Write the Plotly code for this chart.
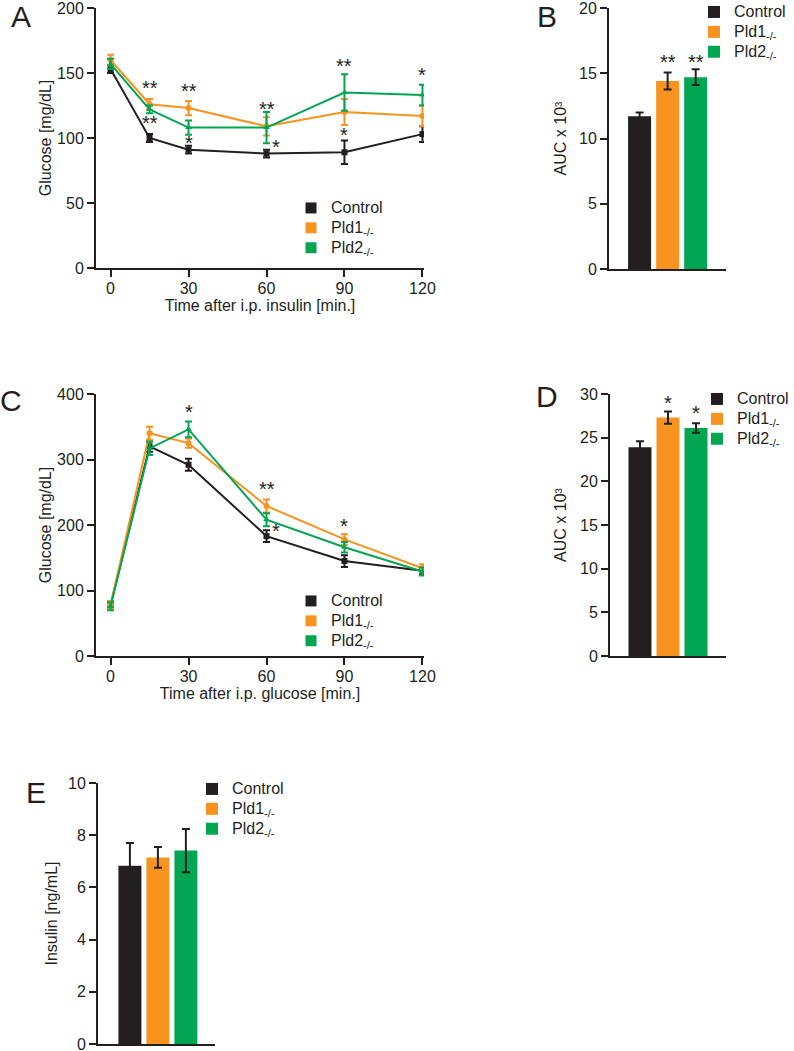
import plotly.graph_objects as go

W, H = 794, 1051
FONT = "Liberation Sans, Arial, Helvetica, sans-serif"
INK = "#231F20"

# ---------------- data ----------------
time_min = [0, 15, 30, 60, 90, 120]
time_ticks = [0, 30, 60, 90, 120]
groups = ["Control", "Pld1-/-", "Pld2-/-"]
group_labels = ["Control", "Pld1<sub>-/-</sub>", "Pld2<sub>-/-</sub>"]
group_colors = ["#231F20", "#F7931E", "#00A651"]
group_symbols = ["square", "circle", "triangle-up"]

# A: insulin tolerance test (glucose, mg/dL)
itt_control = [153, 100, 91, 88, 89, 103]
itt_control_err = [3, 3, 3, 3, 9, 6]
itt_pld1 = [160, 126, 123, 109, 120, 117]
itt_pld1_err = [4, 4, 5.5, 7, 10, 8]
itt_pld2 = [157, 122, 108, 108, 135, 133]
itt_pld2_err = [4, 3, 5.5, 12, 14, 8]
sig_a_x = [15, 15, 30, 30, 60, 63.5, 90, 90, 120]
sig_a_y = [140, 113, 138, 98, 124, 95, 157, 104, 150]
sig_a_text = ["**", "**", "**", "*", "**", "*", "**", "*", "*"]

# B: ITT area under curve (x 10^3)
itt_auc = [11.7, 14.4, 14.7]
itt_auc_err = [0.3, 0.65, 0.6]
sig_b_x = ["Pld1-/-", "Pld2-/-"]
sig_b_y = [16.0, 16.0]
sig_b_text = ["**", "**"]

# C: glucose tolerance test (glucose, mg/dL)
gtt_control = [78, 320, 292, 183, 145, 130]
gtt_control_err = [5, 8, 9, 9, 9, 6]
gtt_pld1 = [78, 340, 325, 229, 178, 134]
gtt_pld1_err = [6, 10, 7, 10, 8, 6]
gtt_pld2 = [76, 317, 346, 208, 166, 129]
gtt_pld2_err = [6, 10, 12, 10, 8, 6]
sig_c_x = [30, 60, 63.5, 90]
sig_c_y = [375, 258, 194, 202]
sig_c_text = ["*", "**", "*", "*"]

# D: GTT area under curve (x 10^3)
gtt_auc = [23.9, 27.3, 26.1]
gtt_auc_err = [0.7, 0.7, 0.55]
sig_d_x = ["Pld1-/-", "Pld2-/-"]
sig_d_y = [29.2, 28.0]
sig_d_text = ["*", "*"]

# E: plasma insulin (ng/mL)
insulin = [6.83, 7.15, 7.41]
insulin_err = [0.87, 0.4, 0.83]


# ---------------- helpers ----------------
def xdom(left, right):
    return [left / W, right / W]


def ydom(top, bottom):
    return [1 - bottom / H, 1 - top / H]


def legend_text(label):
    return f'<span style="font-size:16px">{label}</span>'


fig = go.Figure()


def add_lines(xa, ya, legend, series, errs):
    for i, (vals, err) in enumerate(zip(series, errs)):
        fig.add_trace(go.Scatter(
            x=time_min, y=vals, xaxis=xa, yaxis=ya,
            mode="lines+markers", showlegend=False,
            line=dict(color=group_colors[i], width=2),
            marker=dict(color=group_colors[i], size=6, symbol=group_symbols[i]),
            error_y=dict(type="data", array=err, color=group_colors[i],
                         thickness=2, width=3.5),
        ))
    for i in range(3):
        fig.add_trace(go.Scatter(
            x=[None], y=[None], xaxis=xa, yaxis=ya, mode="markers",
            name=legend_text(group_labels[i]), legend=legend,
            marker=dict(color=group_colors[i], size=11, symbol="square"),
        ))


def add_bars(xa, ya, legend, vals, errs):
    for i in range(3):
        fig.add_trace(go.Bar(
            x=[groups[i]], y=[vals[i]], xaxis=xa, yaxis=ya,
            name=legend_text(group_labels[i]), legend=legend, width=0.82,
            marker=dict(color=group_colors[i], line=dict(width=0)),
            error_y=dict(type="data", array=[errs[i]], color=INK,
                         thickness=2, width=4),
        ))


def add_sig(xa, ya, xs, ys, texts):
    for x, y, t in zip(xs, ys, texts):
        fig.add_annotation(x=x, y=y, xref=xa, yref=ya, text=t,
                           showarrow=False, yshift=-2,
                           font=dict(size=20, color=INK, family=FONT))


add_lines("x", "y", "legend",
          [itt_control, itt_pld1, itt_pld2],
          [itt_control_err, itt_pld1_err, itt_pld2_err])
add_bars("x2", "y2", "legend2", itt_auc, itt_auc_err)
add_lines("x3", "y3", "legend3",
          [gtt_control, gtt_pld1, gtt_pld2],
          [gtt_control_err, gtt_pld1_err, gtt_pld2_err])
add_bars("x4", "y4", "legend4", gtt_auc, gtt_auc_err)
add_bars("x5", "y5", "legend5", insulin, insulin_err)

add_sig("x", "y", sig_a_x, sig_a_y, sig_a_text)
add_sig("x2", "y2", sig_b_x, sig_b_y, sig_b_text)
add_sig("x3", "y3", sig_c_x, sig_c_y, sig_c_text)
add_sig("x4", "y4", sig_d_x, sig_d_y, sig_d_text)

axis_common = dict(showline=True, linecolor=INK, linewidth=2, showgrid=False,
                   zeroline=False, ticks="outside", ticklen=7, tickwidth=2,
                   tickcolor=INK, ticklabeloverflow="allow",
                   tickfont=dict(size=16, color=INK, family=FONT))
title_font = dict(size=16, color=INK, family=FONT)


def time_axis(domain, title):
    return dict(axis_common, domain=domain, range=[-5.6, 120.6],
                tickvals=time_ticks, ticklabelstandoff=-2,
                title=dict(text=title, font=title_font, standoff=2))


def cat_axis(domain, rng):
    return dict(axis_common, domain=domain, range=rng, type="category",
                categoryorder="array", categoryarray=groups,
                showticklabels=False, ticks="")


def val_axis(domain, rng, dtick, title, standoff):
    return dict(axis_common, domain=domain, range=rng, dtick=dtick,
                title=dict(text=title, font=title_font, standoff=standoff))


def legend_at(x_px, y_px):
    return dict(x=x_px / W, y=1 - y_px / H, xanchor="left", yanchor="top",
                bgcolor="rgba(0,0,0,0)", borderwidth=0, itemwidth=30,
                font=dict(size=13, color=INK, family=FONT), tracegroupgap=0)


fig.update_layout(
    width=W, height=H,
    margin=dict(l=0, r=0, t=0, b=0, pad=0, autoexpand=False),
    paper_bgcolor="white", plot_bgcolor="white",
    font=dict(family=FONT, color=INK), barmode="overlay",
    xaxis=dict(time_axis(xdom(96, 424), "Time after i.p. insulin [min.]"), anchor="y"),
    yaxis=dict(val_axis(ydom(8, 268), [0, 200], 50, "Glucose [mg/dL]", 1), anchor="x"),
    xaxis2=dict(cat_axis(xdom(609, 726), [-1.09, 3.08]), anchor="y2"),
    yaxis2=dict(val_axis(ydom(8, 269), [0, 20], 5, "AUC x 10³", 8), anchor="x2"),
    xaxis3=dict(time_axis(xdom(96, 424), "Time after i.p. glucose [min.]"), anchor="y3"),
    yaxis3=dict(val_axis(ydom(394, 656), [0, 400], 100, "Glucose [mg/dL]", 1), anchor="x3"),
    xaxis4=dict(cat_axis(xdom(610, 726), [-1.07, 3.07]), anchor="y4"),
    yaxis4=dict(val_axis(ydom(394, 656), [0, 30], 5, "AUC x 10³", 9), anchor="x4"),
    xaxis5=dict(cat_axis(xdom(98, 215), [-1.14, 3.04]), anchor="y5"),
    yaxis5=dict(val_axis(ydom(783, 1044), [0, 10], 2, "Insulin [ng/mL]", 6), anchor="x5"),
    legend=legend_at(291, 193),
    legend2=legend_at(694, -3),
    legend3=legend_at(291, 586),
    legend4=legend_at(697, 384),
    legend5=legend_at(192, 774),
)

panel_letters = ["A", "B", "C", "D", "E"]
letter_x = [21, 547, 11, 547, 36]
letter_y = [17, 17, 400, 397, 792]
for t, x, y in zip(panel_letters, letter_x, letter_y):
    fig.add_annotation(x=x / W, y=1 - y / H, xref="paper", yref="paper",
                       text=t, showarrow=False, xanchor="center", yanchor="middle",
                       font=dict(size=30, color=INK, family=FONT))

fig.write_html("out.html",
               config={"displayModeBar": False},
               post_script="document.body.style.margin='0';"
                           "document.body.style.overflow='hidden';")
